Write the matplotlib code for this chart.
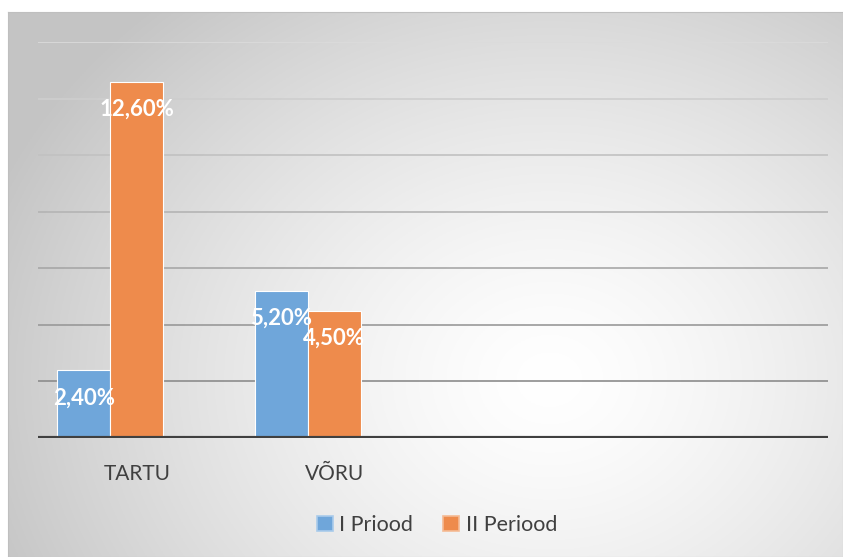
"""Bar chart: share by town for two periods (TARTU, VÕRU)."""

import matplotlib

matplotlib.use("Agg")
import matplotlib.pyplot as plt
import numpy as np
from matplotlib.patches import Patch

plt.rcParams["font.family"] = ["Lato", "DejaVu Sans"]

# data
categories = ["TARTU", "VÕRU", "", ""]
period1 = [2.4, 5.2, np.nan, np.nan]
period2 = [12.6, 4.5, np.nan, np.nan]
series_names = ["I Priood", "II Periood"]

BLUE = "#6fa6da"
ORANGE = "#ee8b4c"
W, H = 843, 557


def background(fig):
    # radial grey->white gradient, like the office chart area fill
    bg = fig.add_axes([8 / W, 0, 1 - 8 / W, 1 - 12 / H], zorder=-10)
    xs = np.linspace(8, W, 420)
    ys = np.linspace(12, H, 280)
    xx, yy = np.meshgrid(xs, ys)
    r = np.sqrt(((xx - 550) / 600) ** 2 + ((yy - 380) / 500) ** 2)
    val = 1 - 0.23 * np.clip(r, 0, 1) ** 1.4
    img = np.dstack([val, val, val])
    bg.imshow(img, aspect="auto", extent=[0, 1, 0, 1], origin="upper")
    bg.set_xticks([])
    bg.set_yticks([])
    for s in bg.spines.values():
        s.set_color("#bfbfbf")
        s.set_linewidth(0.8)


def main():
    fig = plt.figure(figsize=(W / 100, H / 100), dpi=100)
    background(fig)
    ax = fig.add_axes([38 / W, (H - 438) / H, 790 / W, (438 - 42) / H])
    ax.patch.set_alpha(0)

    x = np.arange(len(categories))
    bw = 0.268
    # three slots per group; third one is empty
    b1 = ax.bar(x - bw, period1, bw, color=BLUE, edgecolor="#ffffff",
                linewidth=0.8, label=series_names[0], zorder=3)
    b2 = ax.bar(x, period2, bw, color=ORANGE, edgecolor="#ffffff",
                linewidth=0.8, label=series_names[1], zorder=3)

    for bars, vals in [(b1, period1), (b2, period2)]:
        for rect, v in zip(bars, vals):
            if np.isnan(v):
                continue
            ax.annotate(f"{v:.2f}%".replace(".", ","),
                        (rect.get_x() + rect.get_width() / 2, v),
                        xytext=(0, -20), textcoords="offset points",
                        ha="center", va="center", color="white",
                        fontsize=16, fontweight="bold", zorder=5)

    ax.set_xlim(-0.5, len(categories) - 0.5)
    ax.set_ylim(0, 14)
    grid_levels = np.arange(2, 15, 2)
    shades = np.linspace(0.55, 0.86, len(grid_levels))
    for lvl, sh in zip(grid_levels, shades):
        ax.axhline(lvl, color=(sh, sh, sh), linewidth=1.2, zorder=1)
    ax.axhline(0, color="#404040", linewidth=3, zorder=4)

    ax.set_yticks([])
    ax.set_xticks(x)
    ax.set_xticklabels(categories, fontsize=15, color="#404040")
    ax.tick_params(axis="x", length=0, pad=19)
    for s in ax.spines.values():
        s.set_visible(False)

    handles = [Patch(facecolor=BLUE, edgecolor="#a9cbeb", linewidth=1.2),
               Patch(facecolor=ORANGE, edgecolor="#f5bb95", linewidth=1.2)]
    fig.legend(handles, series_names, loc="center", ncol=2,
               bbox_to_anchor=(437 / W, 1 - 525 / H), frameon=False,
               fontsize=15.5, handlelength=0.75, handleheight=0.75,
               handletextpad=0.3, columnspacing=1.4, labelcolor="#404040")

    fig.savefig("out.png", dpi=100)
    plt.close(fig)


if __name__ == "__main__":
    main()
